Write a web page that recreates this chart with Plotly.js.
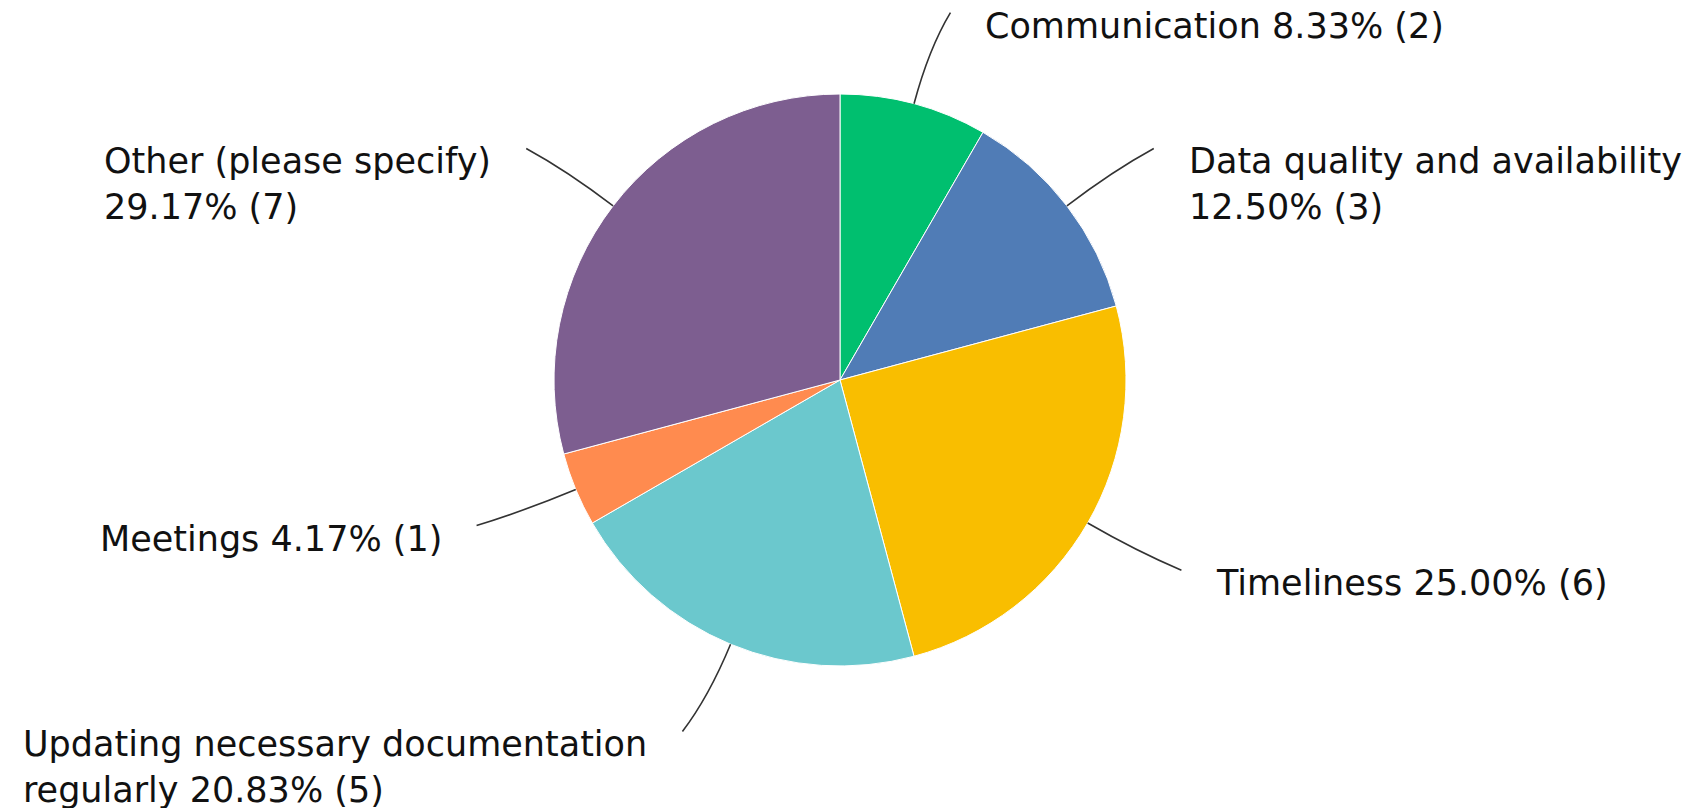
<!DOCTYPE html>
<html>
<head>
<meta charset="utf-8">
<script src="https://cdn.plot.ly/plotly-3.0.1.min.js"></script>
<style>html,body{margin:0;padding:0;background:#fff;}#chart{width:1696px;height:808px;}</style>
</head>
<body>
<div id="chart"></div>
<script>
// ---- data ----
const categories = ["Communication", "Data quality and availability", "Timeliness",
  "Updating necessary documentation regularly", "Meetings", "Other (please specify)"];
const counts = [2, 3, 6, 5, 1, 7];
const colors = ["#00BF6F", "#507CB6", "#F9BE00", "#6BC8CD", "#FF8B4F", "#7D5E90"];

// ---- layout constants ----
const W = 1696, H = 808;
const CX = 840, CY = 380, R = 286;
const FONT = "DejaVu Sans, Liberation Sans, Arial, sans-serif";
const FS = 35;

const total = counts.reduce((a, b) => a + b, 0);

function wrap(name, suffix, maxLen) {
  const tokens = name.split(" ").concat([suffix]);
  const lines = []; let cur = "";
  tokens.forEach(t => {
    const test = cur ? cur + " " + t : t;
    if (test.length > maxLen && cur) { lines.push(cur); cur = t; } else { cur = test; }
  });
  if (cur) lines.push(cur);
  return lines.join("<br>");
}

const shapes = [], annotations = [];
let cum = 0;
const px = x => x / W, py = y => 1 - y / H;
counts.forEach((c, i) => {
  const mid = (cum + c / 2) / total * 2 * Math.PI; // clockwise from top
  cum += c;
  const s = Math.sin(mid), co = Math.cos(mid);
  const side = s >= 0 ? 1 : -1;
  const p0 = [CX + R * s, CY - R * co];
  const p1 = [CX + R * 1.2 * s, CY - R * 1.2 * co];
  const p2 = [CX + R * 1.33 * s + 12 * side, CY - R * 1.33 * co];
  shapes.push({
    type: "path", xref: "paper", yref: "paper",
    path: `M ${px(p0[0])} ${py(p0[1])} Q ${px(p1[0])} ${py(p1[1])} ${px(p2[0])} ${py(p2[1])}`,
    line: { color: "#333333", width: 1.6 }
  });
  const pct = (c / total * 100).toFixed(2) + "% (" + c + ")";
  annotations.push({
    xref: "paper", yref: "paper",
    x: px(p2[0] + 33 * side), y: py(p2[1]),
    xanchor: side > 0 ? "left" : "right", yanchor: "top", align: "left",
    yshift: 9,
    showarrow: false,
    text: wrap(categories[i], pct, 32),
    font: { family: FONT, size: FS, color: "#111111" }
  });
});

const data = [{
  type: "pie",
  labels: categories,
  values: counts,
  sort: false,
  direction: "clockwise",
  rotation: 0,
  marker: { colors: colors, line: { color: "#ffffff", width: 1 } },
  textinfo: "none",
  hoverinfo: "none",
  showlegend: false,
  domain: { x: [(CX - R) / W, (CX + R) / W], y: [1 - (CY + R) / H, 1 - (CY - R) / H] }
}];

const layout = {
  width: W, height: H,
  margin: { l: 0, r: 0, t: 0, b: 0 },
  paper_bgcolor: "#ffffff",
  showlegend: false,
  shapes: shapes,
  annotations: annotations
};

Plotly.newPlot("chart", data, layout, { displayModeBar: false, staticPlot: true });
</script>
</body>
</html>
